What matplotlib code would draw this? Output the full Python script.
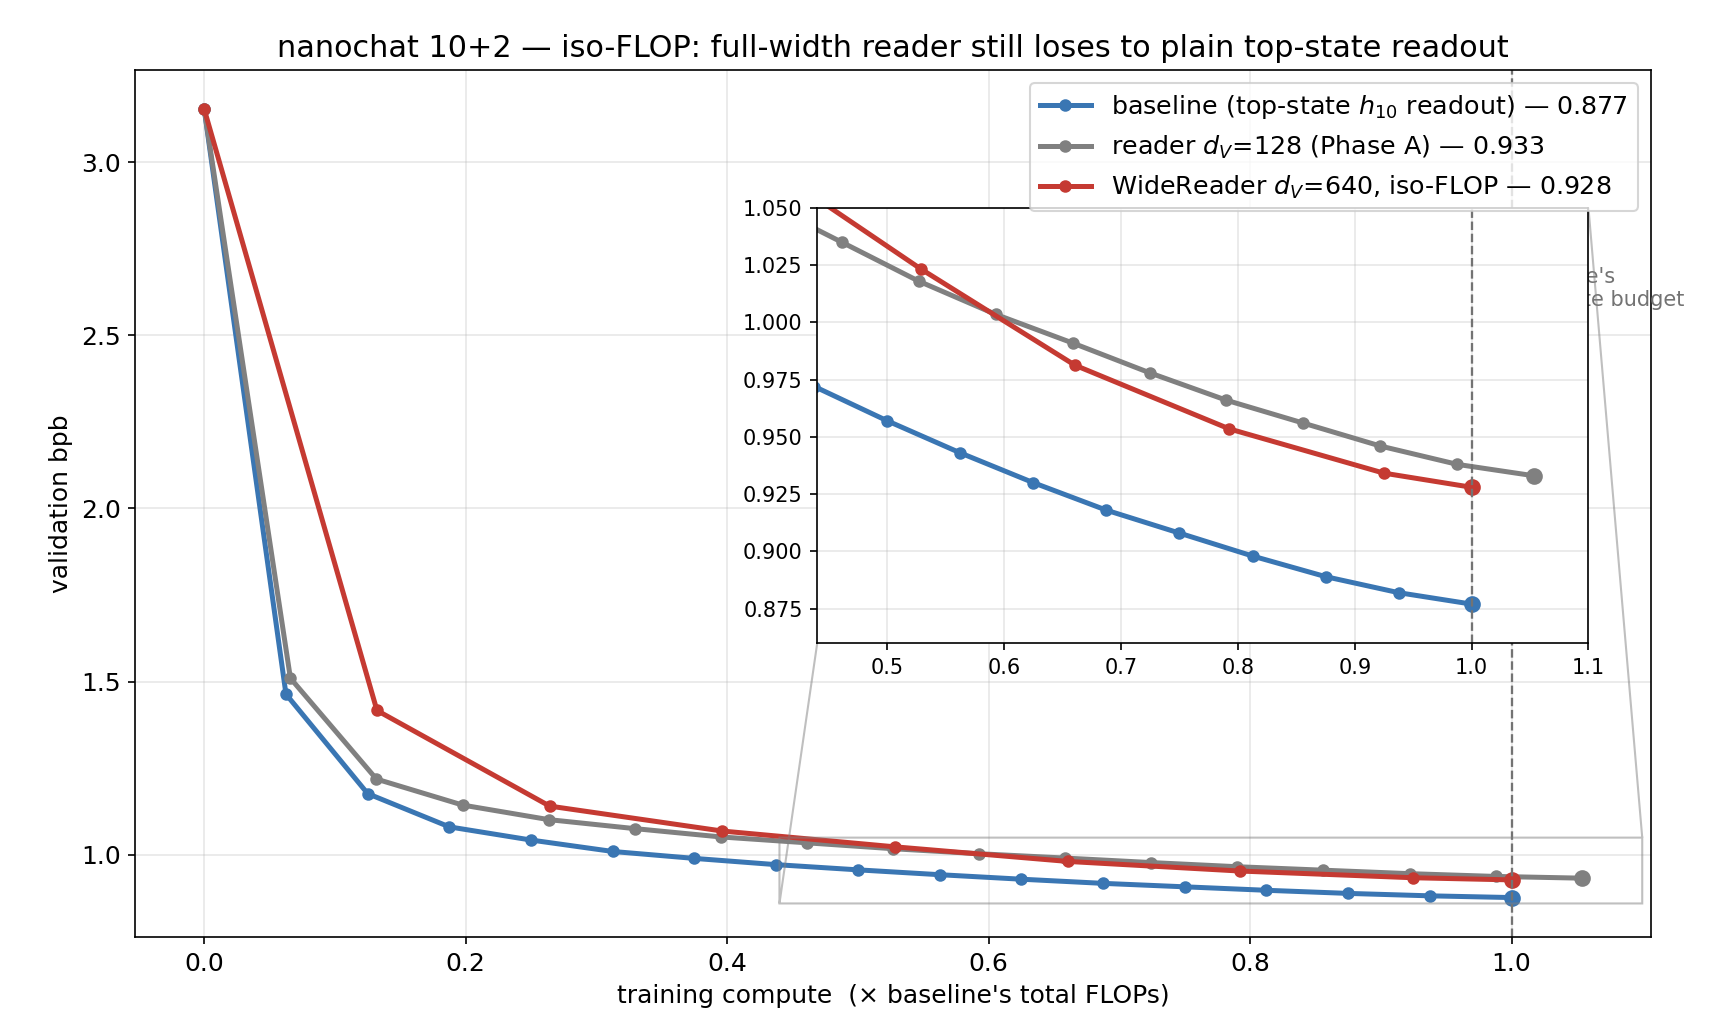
import matplotlib
matplotlib.use("Agg")
import matplotlib.pyplot as plt

# data
base_x = [0.0, 0.0625, 0.125, 0.1875, 0.25, 0.3125, 0.375, 0.4375, 0.5,
          0.5625, 0.625, 0.6875, 0.75, 0.8125, 0.875, 0.9375, 1.0]
base_y = [3.152, 1.464, 1.177, 1.081, 1.043, 1.010, 0.990, 0.972, 0.957,
          0.943, 0.930, 0.918, 0.908, 0.898, 0.889, 0.882, 0.877]

reader_x = [0.0, 0.0659, 0.1317, 0.1976, 0.2634, 0.3293, 0.3951, 0.4610, 0.5268,
            0.5927, 0.6585, 0.7244, 0.7902, 0.8561, 0.9220, 0.9878, 1.0537]
reader_y = [3.152, 1.510, 1.219, 1.144, 1.102, 1.076, 1.052, 1.035, 1.018,
            1.0035, 0.991, 0.978, 0.966, 0.956, 0.946, 0.938, 0.933]

wide_x = [0.0, 0.1321, 0.2642, 0.3963, 0.5284, 0.6605, 0.7926, 0.9247, 1.0]
wide_y = [3.152, 1.417, 1.141, 1.069, 1.0234, 0.9813, 0.9535, 0.9342, 0.928]

series = [
    (base_x, base_y, "#3a76b3", r"baseline (top-state $h_{10}$ readout) — 0.877"),
    (reader_x, reader_y, "#808080", r"reader $d_V$=128 (Phase A) — 0.933"),
    (wide_x, wide_y, "#c53a32", r"WideReader $d_V$=640, iso-FLOP — 0.928"),
]

fig = plt.figure(figsize=(1714 / 150, 1020 / 150), dpi=150)
ax = fig.add_axes([0.079, 0.0814, 0.884, 0.850])

for x, y, c, lab in series:
    ax.plot(x, y, "-o", color=c, lw=2.4, ms=5, label=lab)
    ax.plot(x[-1], y[-1], "o", color=c, ms=7)

ax.axvline(1.0, color="0.45", ls="--", lw=1.1)
ax.text(1.0, 2.636, "baseline's\ncompute budget", color="0.45", fontsize=10,
        va="center", ha="left")

ax.set_xlabel("training compute  (× baseline's total FLOPs)", fontsize=12)
ax.set_ylabel("validation bpb", fontsize=12)
ax.set_title("nanochat 10+2 — iso-FLOP: full-width reader still loses to plain top-state readout",
             fontsize=14.5)
ax.grid(True, alpha=0.3)
ax.tick_params(labelsize=12)
ax.legend(loc="upper right", fontsize=12.2)

# zoomed inset on the tail
axins = ax.inset_axes([0.45, 0.339, 0.509, 0.502])
for x, y, c, lab in series:
    axins.plot(x, y, "-o", color=c, lw=2.4, ms=5)
    axins.plot(x[-1], y[-1], "o", color=c, ms=7)
axins.axvline(1.0, color="0.45", ls="--", lw=1.1)
axins.set_xlim(0.44, 1.1)
axins.set_ylim(0.86, 1.05)
axins.grid(True, alpha=0.3)
axins.tick_params(labelsize=10)
axins.yaxis.set_major_formatter(matplotlib.ticker.FormatStrFormatter("%.3f"))
ax.indicate_inset_zoom(axins, edgecolor="0.5")

fig.savefig("out.png", dpi=150)
